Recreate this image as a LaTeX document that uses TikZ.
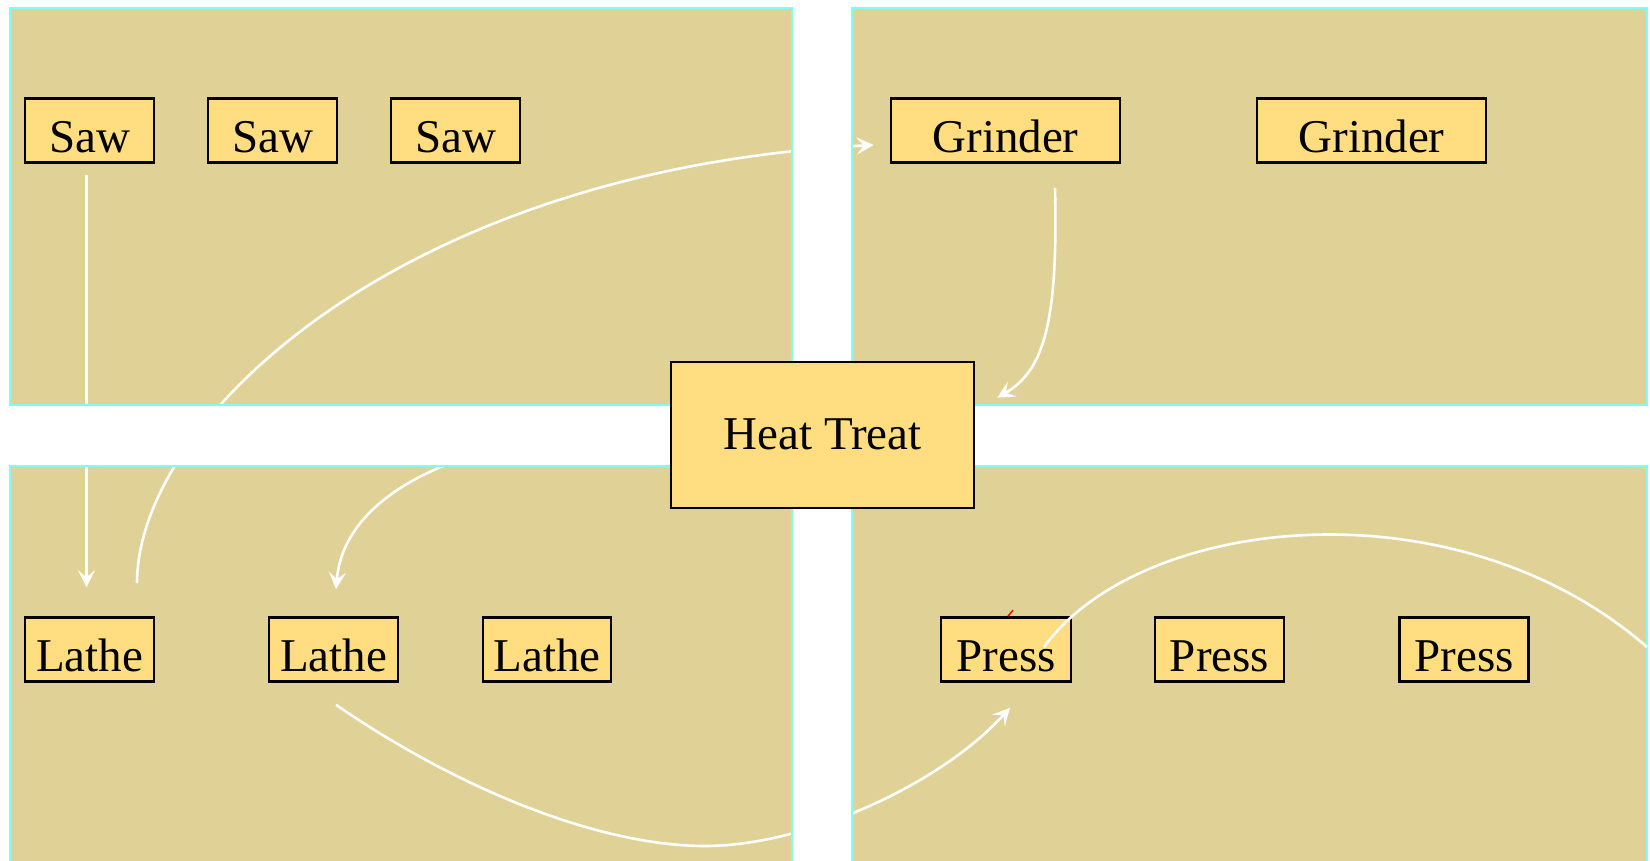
\documentclass[tikz,border=0pt]{standalone}
\usepackage{fontspec}
\setmainfont{Liberation Serif}
\usetikzlibrary{arrows.meta}
\definecolor{panelfill}{RGB}{224,210,150}
\definecolor{panelframe}{RGB}{125,255,245}
\definecolor{boxfill}{RGB}{255,221,128}
\pgfdeclarelayer{panels}
\pgfdeclarelayer{edges}
\pgfdeclarelayer{frames}
\pgfsetlayers{panels,edges,frames,main}
\tikzset{
  machine/.style={draw=black, line width=2.6pt, fill=boxfill, inner sep=0pt,
    minimum height=64pt, text height=44pt, text depth=0pt,
    font=\fontsize{47}{52}\selectfont},
  bigmachine/.style={machine, minimum height=146pt, text height=28pt},
  panel/.style={fill=panelfill},
  frame/.style={draw=panelframe, line width=2.5pt},
  flow/.style={draw=white, line width=2.6pt,
    -{Stealth[length=17pt,width=17pt,inset=7pt]}},
  plainflow/.style={draw=white, line width=2.6pt},
}
\begin{document}
\begin{tikzpicture}[x=1pt,y=-1pt]
\useasboundingbox (0,0) rectangle (1650,860);

% department areas
\begin{pgfonlayer}{panels}
  \fill[white] (0,0) rectangle (1650,860);
  \path[panel] (10,8) rectangle (792,405);
  \path[panel] (852,8) rectangle (1647,405);
  \path[panel] (10,466) rectangle (792,875);
  \path[panel] (852,466) rectangle (1647,875);
\end{pgfonlayer}
\begin{pgfonlayer}{frames}
  \draw[frame] (10,8) rectangle (792,405);
  \draw[frame] (852,8) rectangle (1647,405);
  \draw[frame] (10,875) -- (10,466) -- (792,466) -- (792,875);
  \draw[frame] (852,875) -- (852,466) -- (1647,466) -- (1647,875);
\end{pgfonlayer}

% machines
\node[machine, minimum width=129pt] (saw1) at (89.5,130.5) {Saw};
\node[machine, minimum width=129pt] (saw2) at (272.5,130.5) {Saw};
\node[machine, minimum width=129pt] (saw3) at (455.5,130.5) {Saw};
\node[machine, minimum width=229pt] (grinder1) at (1005.5,130.5) {Grinder};
\node[machine, minimum width=229pt] (grinder2) at (1371.5,130.5) {Grinder};
\node[bigmachine, minimum width=303pt] (heat) at (822.5,435) {Heat Treat};
\node[machine, minimum width=129pt] (lathe1) at (89.5,649.5) {Lathe};
\node[machine, minimum width=129pt] (lathe2) at (333.5,649.5) {Lathe};
\node[machine, minimum width=128pt] (lathe3) at (547,649.5) {Lathe};
\node[machine, minimum width=130pt] (press1) at (1006,649.5) {Press};
\node[machine, minimum width=129pt] (press2) at (1219.5,649.5) {Press};
\node[machine, minimum width=129pt] (press3) at (1464,649.5) {Press};
\coordinate (offpage) at (1647,647);

% material flow
\begin{pgfonlayer}{edges}
  \draw[flow] ([xshift=-3pt,yshift=-11pt]saw1.south)
    -- ([xshift=-3pt,yshift=29pt]lathe1.north);
  \draw[flow] ([xshift=47.5pt,yshift=33pt]lathe1.north)
    .. controls (137,420) and (400,170) .. ([xshift=-16pt,yshift=-14.5pt]grinder1.west);
  \draw[flow] ([xshift=49.5pt,yshift=-24pt]grinder1.south)
    .. controls (1058,320) and (1045,370) .. ([xshift=22pt,yshift=-37pt]heat.north east);
  \draw[flow] (heat.west)
    .. controls (500,425) and (345,480) .. ([xshift=2.5pt,yshift=27pt]lathe2.north);
  \draw[flow] ([xshift=2.5pt,yshift=-22pt]lathe2.south)
    .. controls (460,790) and (600,846) .. (705,846)
    .. controls (805,846) and (940,785) .. ([xshift=4pt,yshift=-25pt]press1.south);
\end{pgfonlayer}
\draw[plainflow] ([xshift=38pt,yshift=2.5pt]press1.center)
  .. controls (1140,515) and (1455,480) .. (offpage);
\draw[red, line width=1.5pt] ([xshift=2pt]press1.north) -- ++(5,-6);
\end{tikzpicture}
\end{document}
